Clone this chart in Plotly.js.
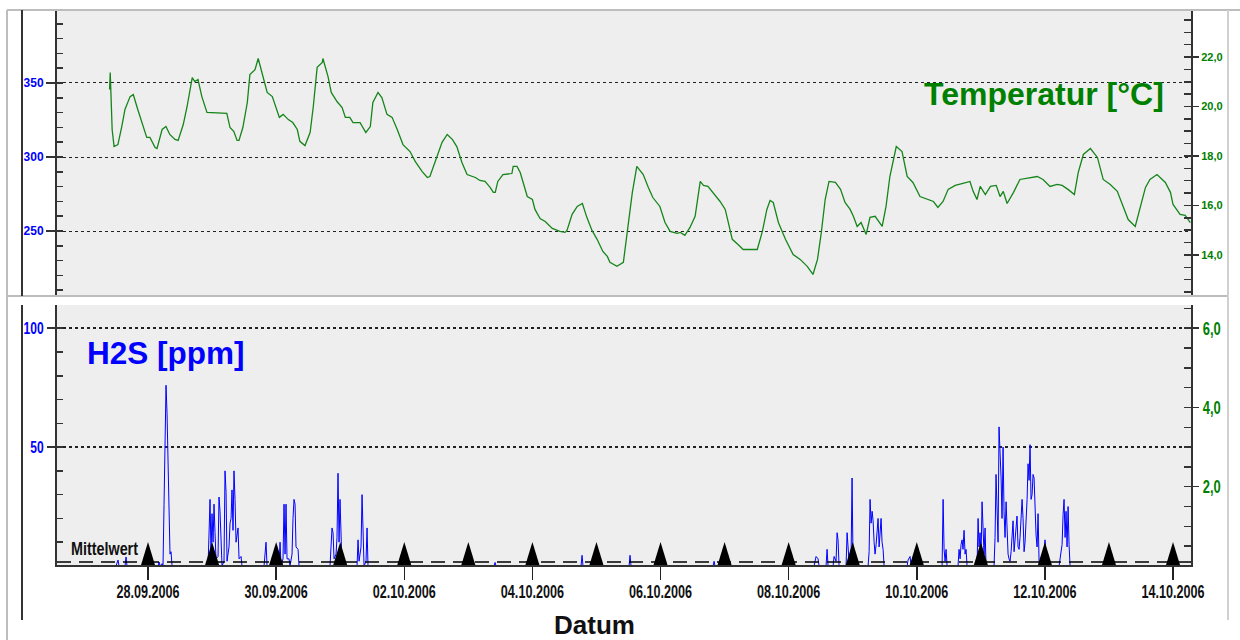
<!DOCTYPE html>
<html>
<head>
<meta charset="utf-8">
<script src="https://cdn.plot.ly/plotly-3.0.1.min.js"></script>
<style>html,body{margin:0;padding:0;background:#fff;}#chart{width:1240px;height:640px;}</style>
</head>
<body>
<div id="chart"></div>
<script>
// ---- DATA (time in days after 28.09.2006 00:00) ----
const tempDays = [
 -0.60,-0.59,-0.58,-0.56,-0.53,-0.47,-0.41,-0.36,-0.28,-0.23,
 -0.16,-0.09,-0.02,0.03,0.11,0.14,0.22,0.28,0.34,0.42,
 0.47,0.55,0.61,0.69,0.73,0.78,0.84,0.92,1.23,1.28,
 1.34,1.39,1.42,1.48,1.55,1.59,1.67,1.72,1.78,1.86,
 1.94,2.01,2.05,2.11,2.19,2.26,2.33,2.37,2.45,2.53,
 2.58,2.64,2.72,2.73,2.81,2.86,2.95,3.03,3.08,3.15,
 3.20,3.31,3.40,3.47,3.51,3.59,3.65,3.73,3.81,3.89,
 3.98,4.09,4.17,4.28,4.36,4.40,4.51,4.59,4.67,4.75,
 4.82,4.90,4.98,5.11,5.18,5.26,5.34,5.39,5.42,5.46,
 5.54,5.68,5.70,5.76,5.81,5.92,6.00,6.04,6.12,6.20,
 6.31,6.43,6.51,6.54,6.62,6.70,6.78,6.85,6.93,7.01,
 7.10,7.17,7.21,7.32,7.42,7.48,7.56,7.63,7.73,7.81,
 7.88,7.99,8.07,8.15,8.26,8.31,8.38,8.46,8.54,8.62,
 8.67,8.74,8.82,8.93,9.01,9.12,9.21,9.29,9.51,9.59,
 9.66,9.71,9.76,9.84,9.95,10.07,10.18,10.29,10.38,10.45,
 10.51,10.57,10.63,10.73,10.81,10.88,10.96,11.01,11.07,11.13,
 11.21,11.27,11.35,11.46,11.52,11.58,11.68,11.77,11.85,11.94,
 12.05,12.18,12.26,12.33,12.41,12.49,12.60,12.72,12.83,12.88,
 12.94,12.99,13.07,13.15,13.24,13.30,13.35,13.41,13.51,13.61,
 13.72,13.88,13.97,14.08,14.19,14.27,14.36,14.46,14.52,14.60,
 14.71,14.82,14.91,15.02,15.13,15.22,15.30,15.41,15.49,15.57,
 15.64,15.75,15.88,15.96,16.00,16.11,16.19,16.27
];
const tempC = [
 20.69,21.37,20.60,19.07,18.38,18.46,19.19,19.88,20.40,20.48,
 19.88,19.27,18.75,18.75,18.34,18.30,19.07,19.19,18.87,18.67,
 18.63,19.27,20.00,21.17,21.01,21.09,20.40,19.76,19.72,19.15,
 18.99,18.63,18.63,19.15,20.16,21.29,21.49,21.94,21.37,20.57,
 20.40,19.80,19.56,19.68,19.47,19.35,19.07,18.59,18.42,18.95,
 20.00,21.58,21.78,21.94,21.21,20.57,20.20,19.96,19.56,19.56,
 19.35,19.35,18.95,19.19,20.16,20.57,20.36,19.68,19.56,19.07,
 18.46,18.18,17.78,17.37,17.13,17.17,17.98,18.55,18.87,18.67,
 18.38,17.74,17.25,17.13,17.01,16.97,16.73,16.53,16.53,16.97,
 17.25,17.29,17.58,17.58,17.33,16.36,16.24,15.84,15.47,15.35,
 15.07,14.95,14.91,14.99,15.64,15.96,16.08,15.52,14.99,14.63,
 14.14,13.94,13.70,13.54,13.70,14.91,16.53,17.58,17.25,16.73,
 16.32,15.96,15.31,14.95,14.87,14.91,14.79,15.11,15.56,16.97,
 16.81,16.77,16.53,16.16,15.84,14.63,14.42,14.22,14.22,14.95,
 15.84,16.20,16.12,15.31,14.63,14.02,13.82,13.54,13.21,13.82,
 14.91,16.24,16.97,16.93,16.65,16.12,15.84,15.56,15.15,15.31,
 14.83,15.52,15.56,15.15,15.96,17.17,18.38,18.18,17.17,16.93,
 16.36,16.24,16.16,15.92,16.16,16.65,16.81,16.89,16.97,16.57,
 16.24,16.77,16.44,16.77,16.81,16.36,16.57,16.08,16.53,17.05,
 17.09,17.17,17.05,16.77,16.85,16.81,16.65,16.44,17.33,18.06,
 18.30,17.94,17.05,16.85,16.57,15.96,15.43,15.15,15.96,16.73,
 17.05,17.25,16.93,16.53,16.04,15.64,15.60,15.31
];
const h2sDays = [
 -1.420,-0.500,-0.468,-0.453,-0.359,-0.343,-0.328,0.156,0.172,0.187,
 0.219,0.234,0.250,0.265,0.281,0.297,0.312,0.328,0.343,0.359,
 0.375,0.937,0.968,0.983,0.999,1.015,1.030,1.046,1.061,1.093,
 1.108,1.124,1.140,1.155,1.186,1.202,1.218,1.233,1.264,1.280,
 1.296,1.311,1.327,1.342,1.358,1.374,1.405,1.421,1.452,1.467,
 1.811,1.842,1.858,2.045,2.061,2.076,2.107,2.123,2.139,2.154,
 2.170,2.201,2.217,2.248,2.263,2.279,2.295,2.310,2.342,2.357,
 2.841,2.872,2.888,2.904,2.935,2.950,2.966,2.982,2.997,3.013,
 3.028,3.263,3.278,3.294,3.325,3.341,3.356,3.372,3.403,3.419,
 3.434,3.934,3.949,3.965,5.401,5.417,5.432,6.759,6.775,6.790,
 7.509,7.524,7.540,8.820,8.836,8.851,10.397,10.428,10.459,10.475,
 10.584,10.600,10.615,10.693,10.709,10.740,10.756,10.771,10.787,10.896,
 10.912,10.927,10.943,10.974,10.990,11.005,11.021,11.240,11.256,11.271,
 11.287,11.303,11.318,11.334,11.349,11.365,11.381,11.396,11.412,11.427,
 11.443,11.458,11.474,11.490,11.849,11.864,11.895,11.911,12.395,12.411,
 12.426,12.442,12.457,12.473,12.644,12.660,12.676,12.691,12.707,12.722,
 12.738,12.754,12.769,12.785,12.941,12.957,12.972,12.988,13.003,13.019,
 13.035,13.050,13.066,13.081,13.206,13.222,13.237,13.253,13.269,13.284,
 13.300,13.316,13.331,13.347,13.362,13.378,13.394,13.409,13.425,13.440,
 13.456,13.472,13.487,13.503,13.519,13.534,13.550,13.565,13.581,13.597,
 13.612,13.628,13.644,13.659,13.675,13.690,13.706,13.722,13.737,13.753,
 13.768,13.784,13.800,13.815,13.831,13.846,13.862,13.878,13.893,13.909,
 13.924,13.987,14.002,14.018,14.034,14.221,14.237,14.268,14.284,14.299,
 14.315,14.330,14.346,14.362,14.377,14.393,16.280
];
const h2sPpm = [
 0,0,2.5,0,0,3.8,0,0,1.7,0,
 1,0,26,48,76,64,45,18,5,6,
 0,0,28,5,22,10,26,14,3,4,
 29,23,5,0,2,40,31,2,8,18,
 20,32,15,40,28,10,16,3,4,0,
 0,10,0,0,10,0,3,26,5,26,
 3,3,0,5,20,28,26,8,7,0,
 0,16,14,3,5,12,39,10,28,13,
 0,0,11,2,8,30,13,0,2,16,
 0,0,4.5,0,0,1.5,0,0,4.5,0,
 0,4.5,0,0,2,0,0,4,3,0,
 0,7,0,0,4,2,14,11,0,0,
 14,6,2,3,37,3,0,0,6,28,
 18,23,19,10,5,9,14,20,8,16,
 20,10,7,0,0,2.5,4,0,0,28,
 7,2,7,0,0,7,3,9,11,7,
 15,5,7,0,0,20,8,14,3,27,
 9,5,16,0,0,12,38.5,20,10,58.5,
 50,37,20,50,23,12,27,10,5,3,
 2,6,13,19,6,10,14,21,8,7,
 12,24,28,20,6,10,18,28,43,36,
 51,28,30,38.5,37,20,13,8,22,2,
 0,0,11,3,0,0,3,9,21.6,28,
 12,23,8,25,9,0,0
];
const mittelwertPpm = 1.7;
const markerDays = ['2006-09-28','2006-09-29','2006-09-30','2006-10-01','2006-10-02','2006-10-03',
 '2006-10-04','2006-10-05','2006-10-06','2006-10-07','2006-10-08','2006-10-09','2006-10-10',
 '2006-10-11','2006-10-12','2006-10-13','2006-10-14'];
const dateTicks = ['2006-09-28','2006-09-30','2006-10-02','2006-10-04','2006-10-06','2006-10-08','2006-10-10','2006-10-12','2006-10-14'];
const dateTickText = ['28.09.2006','30.09.2006','02.10.2006','04.10.2006','06.10.2006','08.10.2006','10.10.2006','12.10.2006','14.10.2006'];
const topLeftTicks = [250, 300, 350];
const topRightTicks = [14, 16, 18, 20, 22];
const botLeftTicks = [50, 100];
const botRightTicks = [2, 4, 6];

// ---- helpers ----
const BASE = Date.UTC(2006, 8, 28);
const DAY = 86400000;
const toMs = d => BASE + d * DAY;
const W = 1240, H = 640;
const px = x => x / W, py = y => 1 - y / H;
const xRange = ['2006-09-26 13:54', '2006-10-14 06:44'];
const xDom = [px(57), px(1191)];
const SANS = '"Liberation Sans", Arial, sans-serif';
const BLUE = '#0000ff', GREEN = '#008000', AX = '#333333';
const botRange = [0.42, 109.75];
const botRange2 = [0.025, 6.585];
const steps = (a, b, s) => { const r = []; for (let v = a; v <= b + 1e-9; v += s) r.push(+v.toFixed(3)); return r; };

const traces = [
  {x: [], y: [], xaxis: 'x2', yaxis: 'y3', type: 'scatter', hoverinfo: 'skip'},
  {x: tempDays.map(toMs), y: tempC, xaxis: 'x2', yaxis: 'y4', type: 'scatter', mode: 'lines',
   line: {color: '#15851a', width: 1.3}},
  {x: h2sDays.map(toMs), y: h2sPpm, xaxis: 'x', yaxis: 'y', type: 'scatter', mode: 'lines',
   line: {color: BLUE, width: 1}},
  {x: xRange, y: [mittelwertPpm, mittelwertPpm], xaxis: 'x', yaxis: 'y', type: 'scatter', mode: 'lines',
   line: {color: '#000', width: 1.5, dash: '14px,8px'}},
  {x: xRange, y: [1, 1], xaxis: 'x', yaxis: 'y2', type: 'scatter', mode: 'lines', line: {width: 0}, hoverinfo: 'skip'}
];

const shapes = [];
markerDays.forEach(d => shapes.push({type: 'path', xref: 'x', yref: 'y', xsizemode: 'pixel', ysizemode: 'pixel',
  xanchor: d, yanchor: botRange[0], path: 'M-7,0 L7,0 L0,23 Z', fillcolor: '#000', line: {width: 0}}));
const seg = (x0, y0, x1, y1, color, w) => shapes.push({type: 'line', xref: 'paper', yref: 'paper',
  x0: px(x0), y0: py(y0), x1: px(x1), y1: py(y1), line: {color: color, width: w}});
seg(7, 10, 7, 640, '#bdbdbd', 2);
seg(7, 10, 1240, 10, '#bdbdbd', 2);
seg(7, 296, 1228, 296, '#bdbdbd', 2);
seg(1228, 10, 1228, 620, '#d0d0d0', 2);
seg(22, 10, 22, 296, AX, 2);
seg(22, 305, 22, 620, AX, 2);

const layout = {
  width: W, height: H, margin: {l: 0, r: 0, t: 0, b: 0},
  paper_bgcolor: '#ffffff', plot_bgcolor: '#eeeeee',
  separators: ',.', showlegend: false,
  font: {family: SANS},
  xaxis: {domain: xDom, anchor: 'y', type: 'date', range: xRange,
    tickmode: 'array', tickvals: dateTicks, ticktext: dateTickText,
    ticks: 'outside', ticklen: 13, tickwidth: 1.5, tickcolor: '#222', ticklabelstandoff: -4,
    showline: true, linecolor: AX, linewidth: 2, showgrid: false, zeroline: false,
    tickfont: {family: SANS, size: 18, color: '#111', weight: 'bold'}},
  yaxis: {domain: [py(565), py(305)], anchor: 'x', range: botRange,
    tickmode: 'array', tickvals: botLeftTicks, ticks: 'outside', ticklen: 8, tickwidth: 1.5, tickcolor: AX,
    showgrid: true, gridcolor: '#222', gridwidth: 2, griddash: 'dot', zeroline: false,
    showline: true, linecolor: AX, linewidth: 2,
    minor: {tickmode: 'array', tickvals: steps(10, 100, 10), ticks: 'inside', ticklen: 6, tickwidth: 1.5, tickcolor: AX, showgrid: false},
    tickfont: {family: SANS, size: 17, color: BLUE, weight: 'bold'}},
  yaxis2: {overlaying: 'y', side: 'right', anchor: 'x', range: botRange2,
    tickmode: 'array', tickvals: botRightTicks, tickformat: '.1f', ticks: 'outside', ticklen: 6, tickwidth: 1.5, tickcolor: AX,
    showgrid: false, zeroline: false, showline: true, linecolor: AX, linewidth: 2,
    minor: {tickmode: 'array', tickvals: steps(0.5, 6.5, 0.5), ticks: 'inside', ticklen: 7, tickwidth: 1.5, tickcolor: AX, showgrid: false},
    tickfont: {family: SANS, size: 19, color: GREEN, weight: 'bold'}},
  xaxis2: {domain: xDom, anchor: 'y3', type: 'date', range: xRange, showticklabels: false, ticks: '',
    showline: false, showgrid: false, zeroline: false},
  yaxis3: {domain: [py(296), py(10)], anchor: 'x2', range: [206.1, 399.3],
    tickmode: 'array', tickvals: topLeftTicks, ticks: 'outside', ticklen: 9, tickwidth: 1.5, tickcolor: AX,
    showgrid: true, gridcolor: '#222', gridwidth: 1, griddash: 'dot', zeroline: false,
    showline: true, linecolor: AX, linewidth: 2,
    minor: {tickmode: 'array', tickvals: steps(210, 390, 10), ticks: 'inside', ticklen: 6, tickwidth: 1.5, tickcolor: AX, showgrid: false},
    tickfont: {family: SANS, size: 12, color: BLUE, weight: 'bold'}},
  yaxis4: {overlaying: 'y3', side: 'right', anchor: 'x2', range: [12.34, 23.90],
    tickmode: 'array', tickvals: topRightTicks, tickformat: '.1f', ticks: 'outside', ticklen: 6, tickwidth: 1.5, tickcolor: AX,
    showgrid: false, zeroline: false, showline: true, linecolor: AX, linewidth: 2,
    minor: {tickmode: 'array', tickvals: steps(12.5, 23.5, 0.5), ticks: 'inside', ticklen: 7, tickwidth: 1.5, tickcolor: AX, showgrid: false},
    tickfont: {family: SANS, size: 11, color: GREEN, weight: 'bold'}},
  shapes: shapes,
  annotations: [
    {text: 'Temperatur [°C]', xref: 'paper', yref: 'paper', x: px(1166), y: py(94), xanchor: 'right', yanchor: 'middle',
     showarrow: false, font: {family: SANS, size: 32, color: GREEN, weight: 'bold'}},
    {text: 'H2S [ppm]', xref: 'paper', yref: 'paper', x: px(85), y: py(353), xanchor: 'left', yanchor: 'middle',
     showarrow: false, font: {family: SANS, size: 31.5, color: BLUE, weight: 'bold'}},
    {text: 'Datum', xref: 'paper', yref: 'paper', x: px(594), y: py(625), xanchor: 'center', yanchor: 'middle',
     showarrow: false, font: {family: SANS, size: 26, color: '#111', weight: 'bold'}},
    {text: 'Mittelwert', xref: 'paper', yref: 'paper', x: px(69), y: py(548), xanchor: 'left', yanchor: 'middle',
     align: 'left', showarrow: false, font: {family: SANS, size: 19, color: '#111', weight: 'bold'}}
  ]
};

function squeeze(sel, factor) {
  document.querySelectorAll(sel).forEach(t => {
    const len = t.getComputedTextLength();
    if (len > 0) {
      t.setAttribute('textLength', (len * factor).toFixed(1));
      t.setAttribute('lengthAdjust', 'spacingAndGlyphs');
    }
  });
}

Plotly.newPlot('chart', traces, layout, {staticPlot: true, displayModeBar: false}).then(() => {
  squeeze('.xtick text', 0.70);
  squeeze('.ytick text', 0.71);
  squeeze('.y2tick text', 0.68);
  document.querySelectorAll('.annotation-text').forEach(t => {
    if (t.textContent === 'Mittelwert') {
      t.setAttribute('textLength', '67');
      t.setAttribute('lengthAdjust', 'spacingAndGlyphs');
    }
  });
});
</script>
</body>
</html>
